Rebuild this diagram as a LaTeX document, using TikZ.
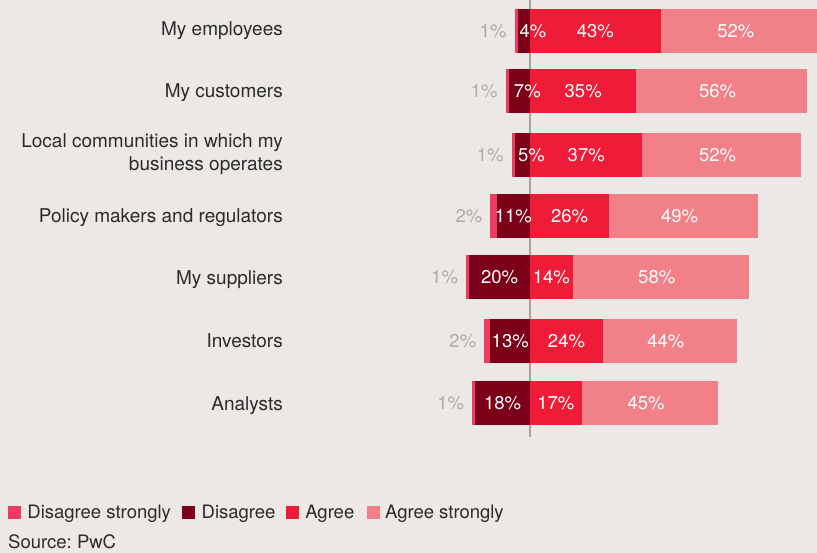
\documentclass[tikz,border=0pt]{standalone}
\usepackage{fontspec}
\setmainfont{TeX Gyre Heros}
\usetikzlibrary{positioning}

\definecolor{bgcol}{HTML}{ECE8E5}
\definecolor{dstrong}{HTML}{EE3B62}
\definecolor{dis}{HTML}{7B0018}
\definecolor{agr}{HTML}{EE1C37}
\definecolor{astrong}{HTML}{F28088}
\definecolor{axiscol}{HTML}{ABA19B}
\definecolor{txtcol}{HTML}{2B2B2B}
\definecolor{pctgray}{HTML}{B3AAA4}
\frenchspacing

\begin{document}
\begin{tikzpicture}[x=1pt,y=-1pt,
  every node/.style={font=\fontsize{18.5}{23}\selectfont,inner sep=0pt,text height=13pt,text depth=0pt},
  cat/.style={anchor=base east,align=right,text=txtcol,font=\fontsize{19}{23}\selectfont,text height=,text depth=},
  pct/.style={text=white},
  outpct/.style={anchor=east,text=pctgray},
  key/.style={minimum size=13pt,text height=,text depth=},
  keytext/.style={text=txtcol}]
\fill[bgcol] (0,0) rectangle (817,553);
\useasboundingbox (0,0) rectangle (817,553);

% centre axis
\draw[axiscol,line width=2pt] (530,0) -- (530,437);

% rows: label / centre y / label shift / disagree strongly / disagree / agree / agree strongly / shift of disagree label
\foreach \name/\yc/\lsh/\ds/\d/\a/\as/\sh [count=\i] in {
    {My employees}/31/-2/1/4/43/52/9,
    {My customers}/91/0/1/7/35/56/8,
    {Local communities in which my\\business operates}/155/9/1/5/37/52/9,
    {Policy makers and regulators}/216/0/2/11/26/49/0,
    {My suppliers}/277/1/1/20/14/58/0,
    {Investors}/341/0/2/13/24/44/0,
    {Analysts}/403/1/1/18/17/45/0}{
  \pgfmathsetmacro\xds{530-(\ds+\d)*3.04}
  \pgfmathsetmacro\xd{530-\d*3.04}
  \pgfmathsetmacro\xa{530+\a*3.04}
  \pgfmathsetmacro\xas{530+(\a+\as)*3.04}
  \fill[dstrong] (\xds,\yc-22) rectangle (\xd,\yc+22);
  \fill[dis] (\xd,\yc-22) rectangle (530,\yc+22);
  \fill[agr] (530,\yc-22) rectangle (\xa,\yc+22);
  \fill[astrong] (\xa,\yc-22) rectangle (\xas,\yc+22);
  \node[cat] (c\i) at (283,\yc+6.5+\lsh) {\name};
  \node[outpct] (g\i) at (\xds-8,\yc) {\ds\%};
  \node[pct] (d\i) at ({(\xd+530)/2+\sh},\yc) {\d\%};
  \node[pct] (a\i) at ({(530+\xa)/2},\yc) {\a\%};
  \node[pct] (s\i) at ({(\xa+\xas)/2-4},\yc) {\as\%};
}

% legend
\node[key,fill=dstrong] (kds) at (14.5,512) {};
\node[keytext,right=6pt of kds] (tds) {Disagree strongly};
\node[key,fill=dis,right=11pt of tds] (kd) {};
\node[keytext,right=6pt of kd] (td) {Disagree};
\node[key,fill=agr,right=10pt of td] (ka) {};
\node[keytext,right=6pt of ka] (ta) {Agree};
\node[key,fill=astrong,right=12pt of ta] (kas) {};
\node[keytext,right=5pt of kas] (tas) {Agree strongly};
\node[keytext,anchor=west] (src) at (8,542) {Source: PwC};
\end{tikzpicture}
\end{document}
